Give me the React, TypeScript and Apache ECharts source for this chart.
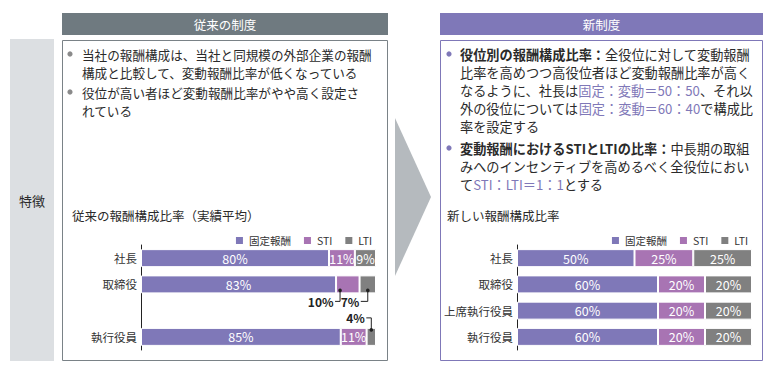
import React, { useEffect, useRef } from 'react';
import * as echarts from 'echarts';

const FONT = '"Noto Sans CJK JP", "Noto Sans", sans-serif';

// ---- data ----
const seriesNames = ['固定報酬', 'STI', 'LTI'];
const seriesColors = ['#7f78b8', '#a874b3', '#808080'];

const oldCategories = ['社長', '取締役', '', '執行役員'];
const oldFixed = [80, 83, null, 85];
const oldSti = [11, 10, null, 11];
const oldLti = [9, 7, null, 4];

const newCategories = ['社長', '取締役', '上席執行役員', '執行役員'];
const newFixed = [50, 60, 60, 60];
const newSti = [25, 20, 20, 20];
const newLti = [25, 20, 20, 20];

// values labelled outside their bar with a leader line
const oldCallouts = [
  { cat: 1, series: 1, side: 'below', anchor: 'start' },
  { cat: 1, series: 2, side: 'below', anchor: 'center' },
  { cat: 3, series: 2, side: 'above', anchor: 'center' },
];

const oldTitle = '従来の報酬構成比率（実績平均）';
const newTitle = '新しい報酬構成比率';
const oldHeader = '従来の制度';
const newHeader = '新制度';
const sideLabel = '特徴';

const oldBullets = [
  ['当社の報酬構成は、当社と同規模の外部企業の報酬', '構成と比較して、変動報酬比率が低くなっている'],
  ['役位が高い者ほど変動報酬比率がやや高く設定さ', 'れている'],
];
const newBullets = [
  [
    '{b|役位別の報酬構成比率：}全役位に対して変動報酬',
    '比率を高めつつ高役位者ほど変動報酬比率が高く',
    'なるように、社長は{p|固定：変動＝50：50}、それ以',
    '外の役位については{p|固定：変動＝60：40}で構成比',
    '率を設定する',
  ],
  [
    '{b|変動報酬におけるSTIとLTIの比率：}中長期の取組',
    'みへのインセンティブを高めるべく全役位におい',
    'て{p|STI：LTI＝1：1}とする',
  ],
];

const TEXT = '#2a2a2a';
const GRAY = '#6f7a80';
const PURPLE = '#7f78b8';

function bulletGraphics(
  bullets: string[][],
  bulletX: number,
  textX: number,
  y0: number,
  lineH: number,
  extra: number,
  fontSize: number,
  dotColor: string
) {
  const els: any[] = [];
  let y = y0;
  bullets.forEach((lines) => {
    els.push({
      type: 'circle',
      shape: { cx: bulletX, cy: y, r: 2.6 },
      style: { fill: dotColor },
    });
    lines.forEach((ln) => {
      els.push({
        type: 'text',
        x: textX,
        y: y,
        style: {
          text: ln,
          fontSize,
          fontFamily: FONT,
          fill: TEXT,
          align: 'left',
          textAlign: 'left',
          verticalAlign: 'middle',
          textVerticalAlign: 'middle',
          rich: {
            b: { fontWeight: 'bold', fontSize, fontFamily: FONT, fill: TEXT },
            p: { fontSize, fontFamily: FONT, fill: PURPLE },
          },
        },
      });
      y += lineH;
    });
    y += extra;
  });
  return els;
}

function buildBars(arrays: any[][], axisIndex: number, stack: string, callouts: any[]) {
  return arrays.map((arr, si) => ({
    type: 'bar',
    name: seriesNames[si],
    stack,
    xAxisIndex: axisIndex,
    yAxisIndex: axisIndex,
    barWidth: 18,
    itemStyle: { color: seriesColors[si], borderColor: '#fff', borderWidth: 1 },
    label: {
      show: true,
      position: 'inside',
      color: '#fff',
      fontSize: 12.5,
      fontFamily: FONT,
      formatter: (p: any) => p.value + '%',
    },
    data: arr.map((v, ci) => {
      const hidden = callouts.some((c) => c.cat === ci && c.series === si);
      return hidden ? { value: v, label: { show: false } } : v;
    }),
  }));
}

function calloutData(arrays: any[][], callouts: any[]) {
  return callouts.map((c) => {
    let start = 0;
    for (let i = 0; i < c.series; i++) start += arrays[i][c.cat] || 0;
    const v = arrays[c.series][c.cat];
    return [start, start + v, c.cat, v];
  });
}

export default function App() {
  const ref = useRef<HTMLDivElement>(null);
  useEffect(() => {
    if (!ref.current) return;
    const chart = echarts.init(ref.current, null, { renderer: 'svg' });
    const oldArrays = [oldFixed, oldSti, oldLti];
    const newArrays = [newFixed, newSti, newLti];

    const yAxisBase = {
      type: 'category',
      inverse: true,
      axisLine: { show: true, lineStyle: { color: '#222', width: 1 } },
      axisTick: { show: false },
      axisLabel: { fontSize: 11.5, color: '#333', fontFamily: FONT, margin: 4 },
    };
    const xAxisBase = { type: 'value', min: 0, max: 100, show: false };

    const legendBase = {
      data: seriesNames,
      top: 230,
      icon: 'rect',
      itemWidth: 9,
      itemHeight: 9,
      itemGap: 11,
      selectedMode: false,
      textStyle: { fontSize: 10.5, color: '#333', fontFamily: FONT },
    };

    const graphics: any[] = [
      { type: 'rect', shape: { x: 10, y: 39, width: 44, height: 322 }, style: { fill: '#dcdfe2' } },
      {
        type: 'text', x: 32, y: 200,
        style: { text: sideLabel, fontSize: 13, fontFamily: FONT, fill: TEXT, align: 'center', textAlign: 'center', verticalAlign: 'middle', textVerticalAlign: 'middle' },
      },
      { type: 'rect', shape: { x: 62, y: 13, width: 326, height: 22 }, style: { fill: GRAY } },
      {
        type: 'text', x: 225, y: 24,
        style: { text: oldHeader, fontSize: 12.5, fontFamily: FONT, fill: '#fff', align: 'center', textAlign: 'center', verticalAlign: 'middle', textVerticalAlign: 'middle' },
      },
      { type: 'rect', shape: { x: 62.5, y: 40.5, width: 325, height: 320 }, style: { fill: '#fff', stroke: '#7a8287', lineWidth: 1 } },
      { type: 'polygon', shape: { points: [[395, 118], [431, 197], [395, 276]] }, style: { fill: '#b5babe' } },
      { type: 'rect', shape: { x: 440, y: 13, width: 323, height: 22 }, style: { fill: PURPLE } },
      {
        type: 'text', x: 601.5, y: 24,
        style: { text: newHeader, fontSize: 12.5, fontFamily: FONT, fill: '#fff', align: 'center', textAlign: 'center', verticalAlign: 'middle', textVerticalAlign: 'middle' },
      },
      { type: 'rect', shape: { x: 440.5, y: 40.5, width: 322, height: 320 }, style: { fill: '#fff', stroke: PURPLE, lineWidth: 1 } },
      {
        type: 'text', x: 72, y: 215,
        style: { text: oldTitle, fontSize: 12.5, fontFamily: FONT, fill: TEXT, align: 'left', textAlign: 'left', verticalAlign: 'middle', textVerticalAlign: 'middle' },
      },
      {
        type: 'text', x: 447, y: 215,
        style: { text: newTitle, fontSize: 12.5, fontFamily: FONT, fill: TEXT, align: 'left', textAlign: 'left', verticalAlign: 'middle', textVerticalAlign: 'middle' },
      },
      ...bulletGraphics(oldBullets, 70, 82, 54, 18, 2, 12.6, '#8a8a8a'),
      ...bulletGraphics(newBullets, 449, 460, 54, 18, 4, 13.2, PURPLE),
    ];

    const oldCall = calloutData(oldArrays, oldCallouts);

    chart.setOption({
      animation: false,
      graphic: { elements: graphics.map((g) => ({ ...g, z: -10 })) },
      grid: [
        { left: 141, top: 245, width: 235, height: 105 },
        { left: 517, top: 245, width: 235, height: 105 },
      ],
      xAxis: [
        { ...xAxisBase, gridIndex: 0 },
        { ...xAxisBase, gridIndex: 1 },
      ],
      yAxis: [
        { ...yAxisBase, gridIndex: 0, data: oldCategories },
        { ...yAxisBase, gridIndex: 1, data: newCategories },
      ],
      legend: [
        { ...legendBase, right: 783 - 377 },
        { ...legendBase, right: 783 - 753 },
      ],
      series: [
        ...buildBars(oldArrays, 0, 'old', oldCallouts),
        ...buildBars(newArrays, 1, 'new', []),
        {
          type: 'custom',
          name: 'callouts',
          xAxisIndex: 0,
          yAxisIndex: 0,
          silent: true,
          clip: false,
          z: 10,
          encode: { x: [0, 1], y: 2 },
          data: oldCall,
          renderItem: (params: any, api: any) => {
            const c = oldCallouts[params.dataIndex];
            const start = api.value(0);
            const end = api.value(1);
            const cat = api.value(2);
            const v = api.value(3);
            const p0 = api.coord([start, cat]);
            const p1 = api.coord([end, cat]);
            const half = 9;
            const yc = p0[1];
            const ax = c.anchor === 'start' ? p0[0] + 4 : (p0[0] + p1[0]) / 2;
            let dotY: number, elbowY: number, lineLen: number;
            if (c.side === 'below') {
              dotY = yc + half - 3;
              elbowY = yc + half + 8;
              lineLen = c.anchor === 'start' ? 5 : 7;
            } else {
              dotY = yc - half + 2;
              elbowY = yc - half - 10;
              lineLen = 5;
            }
            return {
              type: 'group',
              children: [
                {
                  type: 'polyline',
                  shape: { points: [[ax - lineLen, elbowY], [ax, elbowY], [ax, dotY]] },
                  style: { stroke: '#222', lineWidth: 1, fill: null },
                },
                { type: 'circle', shape: { cx: ax, cy: dotY, r: 1.8 }, style: { fill: '#222' } },
                {
                  type: 'text',
                  style: {
                    text: v + '%',
                    x: ax - lineLen - 1.5,
                    y: elbowY,
                    align: 'right',
                    verticalAlign: 'middle',
                    fontSize: 12,
                    fontWeight: 'bold',
                    fontFamily: FONT,
                    fill: '#222',
                  },
                },
              ],
            };
          },
        },
      ],
    });
    return () => chart.dispose();
  }, []);
  return (
    <div
      ref={ref}
      style={{ position: 'absolute', left: 0, top: 0, width: 783, height: 368, background: '#fff' }}
    />
  );
}
